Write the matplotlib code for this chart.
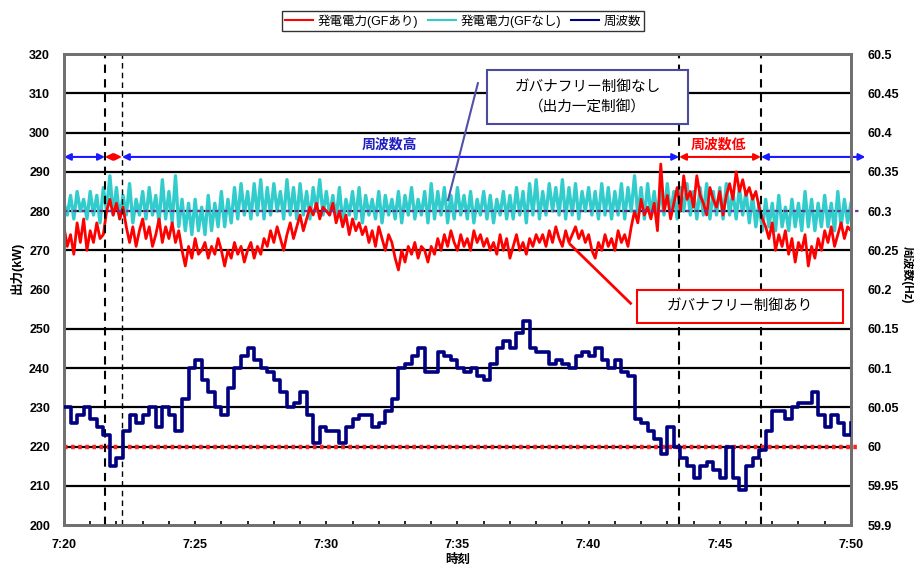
import numpy as np
import matplotlib
matplotlib.use('Agg')
import matplotlib.pyplot as plt
from matplotlib.patches import Rectangle

plt.rcParams['font.family'] = ['Liberation Sans', 'Noto Sans CJK JP']

# 発電電力 [kW], one sample every 7.5 s from 7:20
power_gf_on = [
    276, 271, 274, 269, 277, 272, 278, 270, 275, 272, 277, 273, 274,
    280, 283, 279, 282, 278, 281, 276,
    272, 276, 271, 275, 278, 273, 276, 271, 274, 278, 272, 276, 273, 277, 272, 275,
    270, 266, 271, 268, 273, 269, 270, 272, 268, 271, 269, 273, 270, 266, 270,
    268, 272, 269, 271, 267, 270, 272, 268, 271, 269, 273,
    271, 275, 272, 276, 273, 270, 274, 277, 273, 276, 279, 275, 278, 281, 279,
    282, 278, 281, 280,
    279, 282, 277, 280, 276, 279, 274, 278, 275, 277,
    274, 276, 272, 275, 271, 276, 273, 270, 274, 272,
    268, 265, 270, 267, 271, 269, 272, 268, 271, 270, 267, 271, 269,
    273, 270, 274, 271, 275, 272, 270, 274, 271, 273, 270, 275, 272, 274, 271, 273, 270,
    272, 269, 274, 270, 273, 268, 271, 274, 270, 272, 269, 273, 271, 274, 272,
    274, 271, 275, 272, 276, 273, 271, 275, 272, 274, 276, 273, 275, 272, 274, 270,
    268, 272, 270, 274, 271, 273, 270, 275, 272, 274, 271,
    276, 280, 277, 283, 279, 281, 278, 282,
    275, 292, 280, 284, 278, 282,
    286, 280, 289, 283, 285, 281, 289, 284, 282, 279, 286, 283,
    281, 285, 279, 284, 287, 283, 290, 285, 288, 284, 286, 283,
    285, 281, 278, 276,
    273, 277, 270, 274, 271, 275, 269, 273, 267, 272, 270, 274, 266,
    271, 268, 273, 270, 275, 272, 276, 271, 274, 277, 273, 276, 275,
]
power_gf_off = [
    282, 279, 284, 278, 285, 280, 283, 278,
    285, 279, 284, 277, 286, 280, 289, 279,
    286, 278, 284, 279, 287, 277, 283, 279,
    285, 278, 286, 279, 284, 277, 288, 278,
    285, 277, 289, 276, 283, 275, 282, 274,
    283, 275, 281, 274, 284, 275, 282, 276,
    285, 276, 283, 277, 286, 278, 287, 279,
    285, 278, 287, 279, 288, 278, 286, 279,
    287, 280, 285, 278, 288, 279, 286, 278,
    287, 279, 285, 278, 286, 280, 288, 279,
    285, 279, 284, 278, 286, 277, 283, 279,
    285, 278, 286, 277, 284, 279, 283, 278,
    285, 277, 284, 279, 283, 278, 285, 277,
    284, 279, 286, 278, 283, 279, 285, 277,
    287, 278, 285, 279, 286, 277, 284, 278,
    286, 279, 284, 278, 285, 277, 283, 279,
    285, 278, 284, 277, 283, 279, 285, 278,
    284, 278, 286, 279, 285, 277, 287, 279,
    288, 278, 285, 279, 287, 280, 286, 279,
    288, 278, 286, 279, 287, 278, 285, 280,
    286, 279, 285, 278, 287, 279, 286, 278,
    285, 279, 287, 278, 286, 280, 289, 279,
    286, 278, 287, 279, 285, 278, 286, 279,
    287, 279, 285, 278, 286, 280, 287, 279,
    285, 278, 286, 279, 287, 278, 285, 279,
    286, 278, 287, 279, 285, 278, 286, 279,
    285, 277, 284, 276, 282, 275, 283, 276,
    282, 275, 284, 276, 281, 275, 283, 276,
    282, 275, 285, 276, 283, 275, 282, 276,
    284, 276, 282, 275, 285, 276, 283, 277,
    282,
]
# 周波数 [Hz], one sample every 15 s
frequency = [
    60.05, 60.03, 60.04, 60.05, 60.035, 60.025, 60.015, 59.975,
    59.985, 60.02, 60.04, 60.03, 60.04, 60.05, 60.025, 60.05,
    60.04, 60.02, 60.06, 60.1, 60.11, 60.085, 60.07, 60.05,
    60.04, 60.075, 60.1, 60.115, 60.125, 60.11, 60.1, 60.095,
    60.085, 60.07, 60.05, 60.055, 60.07, 60.04, 60.005, 60.025,
    60.02, 60.02, 60.005, 60.025, 60.035, 60.04, 60.04, 60.025,
    60.03, 60.045, 60.06, 60.1, 60.105, 60.115, 60.125, 60.095,
    60.095, 60.12, 60.115, 60.11, 60.1, 60.095, 60.1, 60.09,
    60.085, 60.105, 60.125, 60.135, 60.125, 60.145, 60.16, 60.125,
    60.12, 60.12, 60.105, 60.11, 60.105, 60.1, 60.115, 60.12,
    60.115, 60.125, 60.11, 60.1, 60.11, 60.095, 60.09, 60.035,
    60.03, 60.02, 60.01, 59.99, 60.025, 60.0, 59.985, 59.975,
    59.96, 59.975, 59.98, 59.97, 59.96, 60.0, 59.96, 59.945,
    59.975, 59.985, 59.995, 60.02, 60.045, 60.045, 60.035, 60.05,
    60.055, 60.055, 60.07, 60.04, 60.025, 60.04, 60.03, 60.015,
    60.03,
]

span_min = 30  # 7:20 - 7:50
time_labels = ['7:20', '7:25', '7:30', '7:35', '7:40', '7:45', '7:50']
# switching instants, minutes after 7:20
switch_times = [1.56, 2.21, 23.45, 26.57]
nominal_hz = 60.0
gf_off_setpoint = 280

t_power = np.linspace(0, span_min, len(power_gf_on))
t_freq = np.linspace(0, span_min, len(frequency))

fig = plt.figure(figsize=(9.14, 5.68), dpi=100)
ax = fig.add_axes([0.070, 0.0757, 0.861, 0.829])
ax2 = ax.twinx()

ax.set_xlim(0, span_min)
ax.set_ylim(200, 320)
ax2.set_ylim(59.9, 60.5)

# horizontal rules
for lvl in [210, 220, 230, 240, 250, 270, 280, 290, 300, 310]:
    ax.axhline(lvl, color='black', lw=1.6, zorder=1)

ax.plot(t_power, power_gf_off, color='#33cccc', lw=2.4, zorder=3,
        label='発電電力(GFなし)')
ax.plot(t_power, power_gf_on, color='#ff0000', lw=2.0, zorder=4,
        label='発電電力(GFあり)')
ax.plot([0, 30.4], [gf_off_setpoint] * 2, color='#7030a0', lw=1.6,
        ls=(0, (1.5, 2.5)), zorder=5, clip_on=False)

ax2.plot([0, 30.25], [nominal_hz] * 2, color='#ff2020', lw=3.2,
         ls=(0, (0.8, 0.8)), zorder=2, clip_on=False)
ax2.plot(t_freq, frequency, color='#000080', lw=2.6, drawstyle='steps-post',
         zorder=3, label='周波数')

# boundaries between high / low frequency periods
for i, ts in enumerate(switch_times):
    ax.axvline(ts, color='black', lw=1.0 if i == 1 else 1.5,
               ls=(0, (4, 3)), zorder=6)

# period arrows
arrow_y = 293.8
segments = [(0, switch_times[0], '#1a1aff'),
            (switch_times[0], switch_times[1], '#ff0000'),
            (switch_times[1], switch_times[2], '#1a1aff'),
            (switch_times[2], switch_times[3], '#ff0000'),
            (switch_times[3], 30.55, '#1a1aff')]
for x0, x1, col in segments:
    ax.annotate('', xy=(x1, arrow_y), xytext=(x0, arrow_y),
                arrowprops=dict(arrowstyle='<|-|>', color=col, lw=1.5,
                                mutation_scale=10, shrinkA=0, shrinkB=0),
                annotation_clip=False, zorder=7)
ax.text(12.4, 297.0, '周波数高', color='#2020c0', fontsize=10,
        fontweight='bold', ha='center', va='center', zorder=7)
ax.text(24.95, 297.0, '周波数低', color='#ff0000', fontsize=10,
        fontweight='bold', ha='center', va='center', zorder=7)

# callouts
ax.plot([15.78, 14.64], [312.6, 282.8], color='#5050a8', lw=1.5, zorder=8)
ax.add_patch(Rectangle((16.13, 302.2), 7.66, 13.7, facecolor='white',
                       edgecolor='#4a4aa0', lw=1.5, zorder=9))
ax.text(19.96, 309.05, 'ガバナフリー制御なし\n（出力一定制御）', fontsize=10.5,
        ha='center', va='center', linespacing=1.5, zorder=10)

ax.plot([19.3, 21.6], [271.5, 256.5], color='#ff0000', lw=2, zorder=8)
ax.add_patch(Rectangle((21.85, 251.5), 7.85, 8.4, facecolor='white',
                       edgecolor='#ff0000', lw=1.5, zorder=9))
ax.text(25.77, 255.7, 'ガバナフリー制御あり', fontsize=10.5,
        ha='center', va='center', zorder=10)

# axes styling
ax.set_xticks(np.arange(0, span_min + 1, 5))
ax.set_xticklabels(time_labels)
ax.set_xticks(np.arange(0, span_min + 1, 1), minor=True)
ax.tick_params(axis='x', which='both', direction='in', length=3, width=1.2,
               pad=10, labelsize=9)
ax.set_yticks(np.arange(200, 321, 10))
ax.tick_params(axis='y', length=0, pad=10, labelsize=9)
hz_ticks = np.round(np.arange(59.9, 60.501, 0.05), 2)
ax2.set_yticks(hz_ticks)
ax2.set_yticklabels([f'{v:g}' for v in hz_ticks])
ax2.tick_params(axis='y', length=0, pad=12, labelsize=9)
for lab in ax.get_xticklabels() + ax.get_yticklabels() + ax2.get_yticklabels():
    lab.set_fontweight('bold')

for a in (ax, ax2):
    for sp in a.spines.values():
        sp.set_color('#707070')
        sp.set_linewidth(2)

fig.text(17 / 914, 1 - 268 / 568, '出力(kW)', rotation=90, fontsize=9,
         fontweight='bold', ha='center', va='center')
fig.text(907 / 914, 1 - 275 / 568, '周波数(Hz)', rotation=270, fontsize=8.5,
         fontweight='bold', ha='center', va='center')
fig.text(458 / 914, 1 - 560 / 568, '時刻', fontsize=9, fontweight='bold',
         ha='center', va='center')

h1, l1 = ax.get_legend_handles_labels()
h2, l2 = ax2.get_legend_handles_labels()
handles = [h1[1], h1[0], h2[0]]
labels = [l1[1], l1[0], l2[0]]
leg = fig.legend(handles, labels, loc='center', bbox_to_anchor=(463 / 914, 1 - 21 / 568),
                 ncol=3, fontsize=9, frameon=True, fancybox=False,
                 edgecolor='black', handlelength=2.2, handletextpad=0.4,
                 columnspacing=0.8, borderpad=0.25)
leg.get_frame().set_linewidth(1.0)
for line in leg.get_lines():
    line.set_linewidth(1.5)

fig.savefig('out.png', dpi=100)
